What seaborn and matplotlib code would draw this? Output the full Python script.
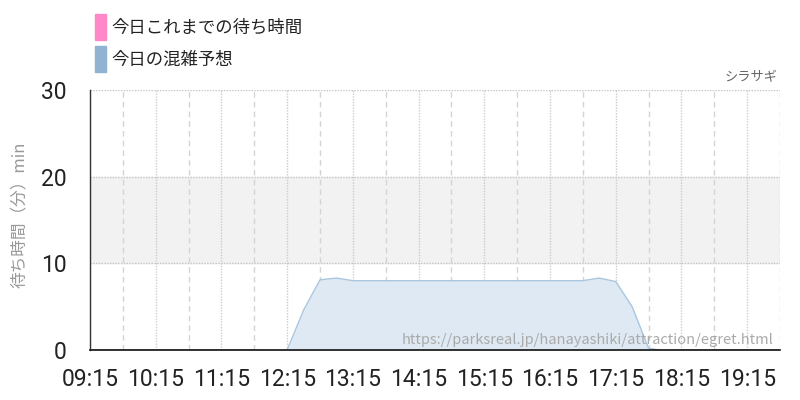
import seaborn as sns
import matplotlib.pyplot as plt
import pandas as pd

# data (15 min steps)
times = ["09:15", "09:30", "09:45", "10:00", "10:15", "10:30", "10:45", "11:00",
         "11:15", "11:30", "11:45", "12:00", "12:15", "12:30", "12:45", "13:00",
         "13:15", "13:30", "13:45", "14:00", "14:15", "14:30", "14:45", "15:00",
         "15:15", "15:30", "15:45", "16:00", "16:15", "16:30", "16:45", "17:00",
         "17:15", "17:30", "17:45", "18:00", "18:15", "18:30", "18:45", "19:00",
         "19:15", "19:30", "19:45"]
forecast = [0, 0, 0, 0, 0, 0, 0, 0,
            0, 0, 0, -0.2, 0, 4.6, 8.1, 8.3,
            8.0, 8.0, 8.0, 8.0, 8.0, 8.0, 8.0, 8.0,
            8.0, 8.0, 8.0, 8.0, 8.0, 8.0, 8.0, 8.3,
            7.9, 5.0, 0.2, -0.1, 0, 0, 0, 0,
            0, 0, 0]
tick_labels = ["09:15", "10:15", "11:15", "12:15", "13:15", "14:15",
               "15:15", "16:15", "17:15", "18:15", "19:15"]
legend_labels = ["今日これまでの待ち時間", "今日の混雑予想"]
legend_colors = ["#ff88c8", "#8fb3d1"]
y_ticks = [0, 10, 20, 30]


def to_hours(s):
    h, m = s.split(":")
    return int(h) + int(m) / 60


df = pd.DataFrame({"t": [to_hours(t) for t in times], "wait": forecast})

sns.set_style("white")
plt.rcParams['font.family'] = ['Noto Sans CJK JP', 'DejaVu Sans']

fig = plt.figure(figsize=(8, 4), dpi=100)
ax = fig.add_axes([0.1125, 0.125, 0.8625, 0.65])

# shaded band
ax.axhspan(10, 20, color="#f2f2f2", zorder=0)

# vertical grid: dotted on the tick hours, dashed half way
for lab in tick_labels:
    x = to_hours(lab)
    ax.axvline(x, color="#cccccc", lw=1, ls=(0, (1, 1)), zorder=1)
    ax.axvline(x + 0.5, color="#d4d4d4", lw=1, ls=(0, (4, 3)), zorder=1)
for y in y_ticks[1:]:
    ax.axhline(y, color="#c4c4c4", lw=1, ls=(0, (1, 1)), zorder=1)

ax.fill_between(df["t"], df["wait"], 0, color="#dfe9f3", zorder=2, lw=0)
sns.lineplot(data=df, x="t", y="wait", ax=ax, color="#a9c6e0", lw=1, zorder=3)

num_font = ['Roboto', 'DejaVu Sans']
ax.set_xlim(to_hours("09:15"), to_hours("19:45"))
ax.set_ylim(0, 30)
ax.set_xticks([to_hours(t) for t in tick_labels])
ax.set_xticklabels(tick_labels, family=num_font, fontsize=16.5, color="#222222")
ax.set_yticks(y_ticks)
ax.set_yticklabels([str(v) for v in y_ticks], family=num_font, fontsize=16.5, color="#222222")
ax.tick_params(axis="x", length=8, color="#c8c8c8", pad=5)
ax.tick_params(axis="y", length=15, color="#c8c8c8", pad=2)
ax.set_xlabel("")
ax.set_ylabel("待ち時間（分）min", color="#999999", fontsize=12, labelpad=10)
ax.yaxis.set_label_coords(-0.09, 0.52)

for side in ["top", "right"]:
    ax.spines[side].set_visible(False)
ax.spines["left"].set_color("#333333")
ax.spines["bottom"].set_color("#111111")
ax.spines["left"].set_linewidth(1)
ax.spines["bottom"].set_linewidth(1.2)
ax.spines["bottom"].set_zorder(4)

# legend drawn as colored squares with labels
for i, (lab, col) in enumerate(zip(legend_labels, legend_colors)):
    y = 0.93 - i * 0.08
    fig.patches.append(plt.Rectangle((0.119, y - 0.031), 0.013, 0.065,
                                     transform=fig.transFigure, color=col))
    fig.text(0.139, y, lab, fontsize=12.5, va="center", color="#222222")

fig.text(0.972, 0.805, "シラサギ", fontsize=9.5, ha="right", va="center", color="#666666")
ax.text(0.99, 0.012, "https://parksreal.jp/hanayashiki/attraction/egret.html",
        transform=ax.transAxes, ha="right", va="bottom", fontsize=10.5,
        color="#aaaaaa", zorder=5)

fig.savefig("out.png", dpi=100)
